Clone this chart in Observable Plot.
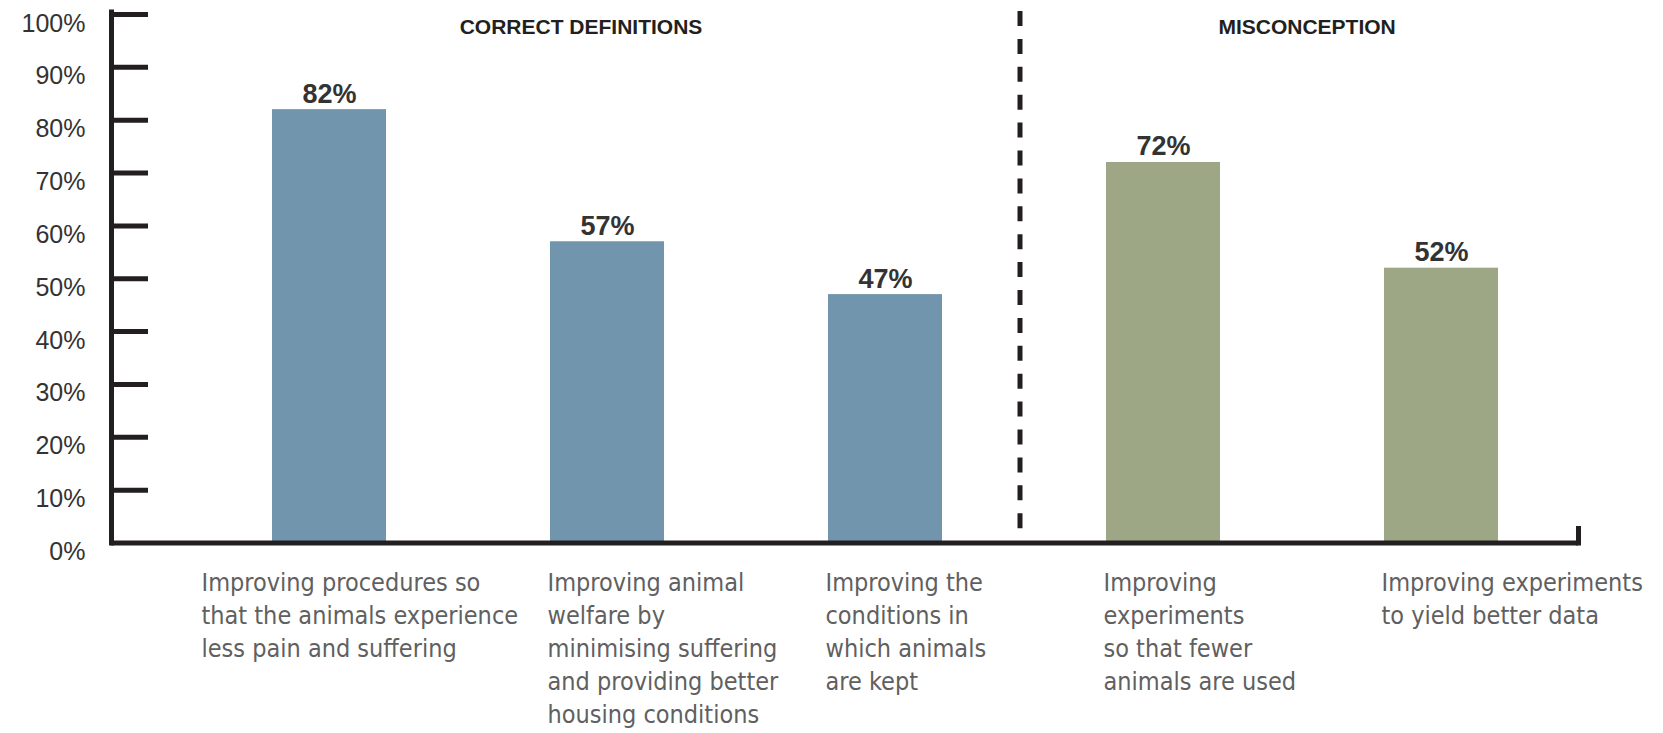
<!DOCTYPE html>
<html><head><meta charset="utf-8">
<script src="https://cdn.jsdelivr.net/npm/d3@7"></script>
<script src="https://cdn.jsdelivr.net/npm/@observablehq/plot@0.6"></script>
<style>
html,body{margin:0;padding:0;background:#fff;}
#chart{width:1663px;height:733px;}
g[font-family^="DejaVu Sans Condensed"]{font-stretch:condensed;}
</style></head><body><div id="chart"></div>
<script>
const categories = [
  "Improving procedures so\nthat the animals experience\nless pain and suffering",
  "Improving animal\nwelfare by\nminimising suffering\nand providing better\nhousing conditions",
  "Improving the\nconditions in\nwhich animals\nare kept",
  "Improving\nexperiments\nso that fewer\nanimals are used",
  "Improving experiments\nto yield better data"
];
const values = [82, 57, 47, 72, 52];
const groups = ["Correct definitions", "Correct definitions", "Correct definitions", "Misconception", "Misconception"];
const groupNames = ["Correct definitions", "Misconception"];
const headerLabels = ["CORRECT DEFINITIONS", "MISCONCEPTION"];
const yTicks = [0, 10, 20, 30, 40, 50, 60, 70, 80, 90, 100];

const data = categories.map((c, i) => ({cat: c, value: values[i], group: groups[i]}));

const W = 1663, H = 733, mL = 111, mR = 85, mT = 14, mB = 190.5;
const ink = "#231f20";
const labelFont = "DejaVu Sans Condensed, DejaVu Sans, sans-serif";

const chart = Plot.plot({
  width: W, height: H,
  marginLeft: mL, marginRight: mR, marginTop: mT, marginBottom: mB,
  style: {fontFamily: "Liberation Sans, Arial, sans-serif", background: "#fff", overflow: "visible"},
  x: {type: "band", domain: categories, range: [270, 1500], paddingInner: 0.59, paddingOuter: 0, axis: null},
  y: {domain: [0, 100], axis: null},
  color: {domain: groupNames, range: ["#7195ad", "#9da785"]},
  marks: [
    Plot.barY(data, {x: "cat", y: "value", fill: "group"}),
    Plot.axisY(yTicks, {tickSize: 0, tickPadding: 26, tickFormat: d => d + "%", fontSize: 25, fill: "#333", dy: 9, label: null}),
    Plot.tickY(yTicks.filter(d => d > 0), {y: d => d, stroke: ink, strokeWidth: 5, insetRight: W - mL - mR - 37}),
    Plot.frame({anchor: "left", stroke: ink, strokeWidth: 5, insetTop: -2.5}),
    Plot.ruleY([0], {stroke: ink, strokeWidth: 5}),
    Plot.frame({anchor: "right", stroke: ink, strokeWidth: 5, insetTop: 514}),
    Plot.ruleX([categories[3]], {x: d => d, dx: -143.5, stroke: ink, strokeWidth: 5, strokeDasharray: "15,12.9", insetTop: -3, insetBottom: 14.3}),
    Plot.text(data, {x: "cat", y: "value", text: d => d.value + "%", dy: -7, lineAnchor: "bottom", fontSize: 27, fontWeight: "bold", fill: "#333"}),
    Plot.text([{label: headerLabels[0], cat: categories[1]}], {x: "cat", text: "label", frameAnchor: "top", lineAnchor: "bottom", dy: 19.5, dx: -26.5, fontSize: 21, fontWeight: "bold", fill: ink}),
    Plot.text([{label: headerLabels[1], cat: categories[3]}], {x: "cat", text: "label", frameAnchor: "top", lineAnchor: "bottom", dy: 19.5, dx: 143.6, fontSize: 21, fontWeight: "bold", fill: ink}),
    Plot.text(data.slice(0, 1), {x: "cat", text: "cat", frameAnchor: "bottom", textAnchor: "start", lineAnchor: "top", dx: -128, dy: 24.8, fontSize: 25, lineHeight: 1.32, fill: "#606060", fontFamily: labelFont}),
    Plot.text(data.slice(1), {x: "cat", text: "cat", frameAnchor: "bottom", textAnchor: "start", lineAnchor: "top", dx: -60, dy: 24.8, fontSize: 25, lineHeight: 1.32, fill: "#606060", fontFamily: labelFont})
  ]
});
document.getElementById("chart").appendChild(chart);
</script>
</body></html>
